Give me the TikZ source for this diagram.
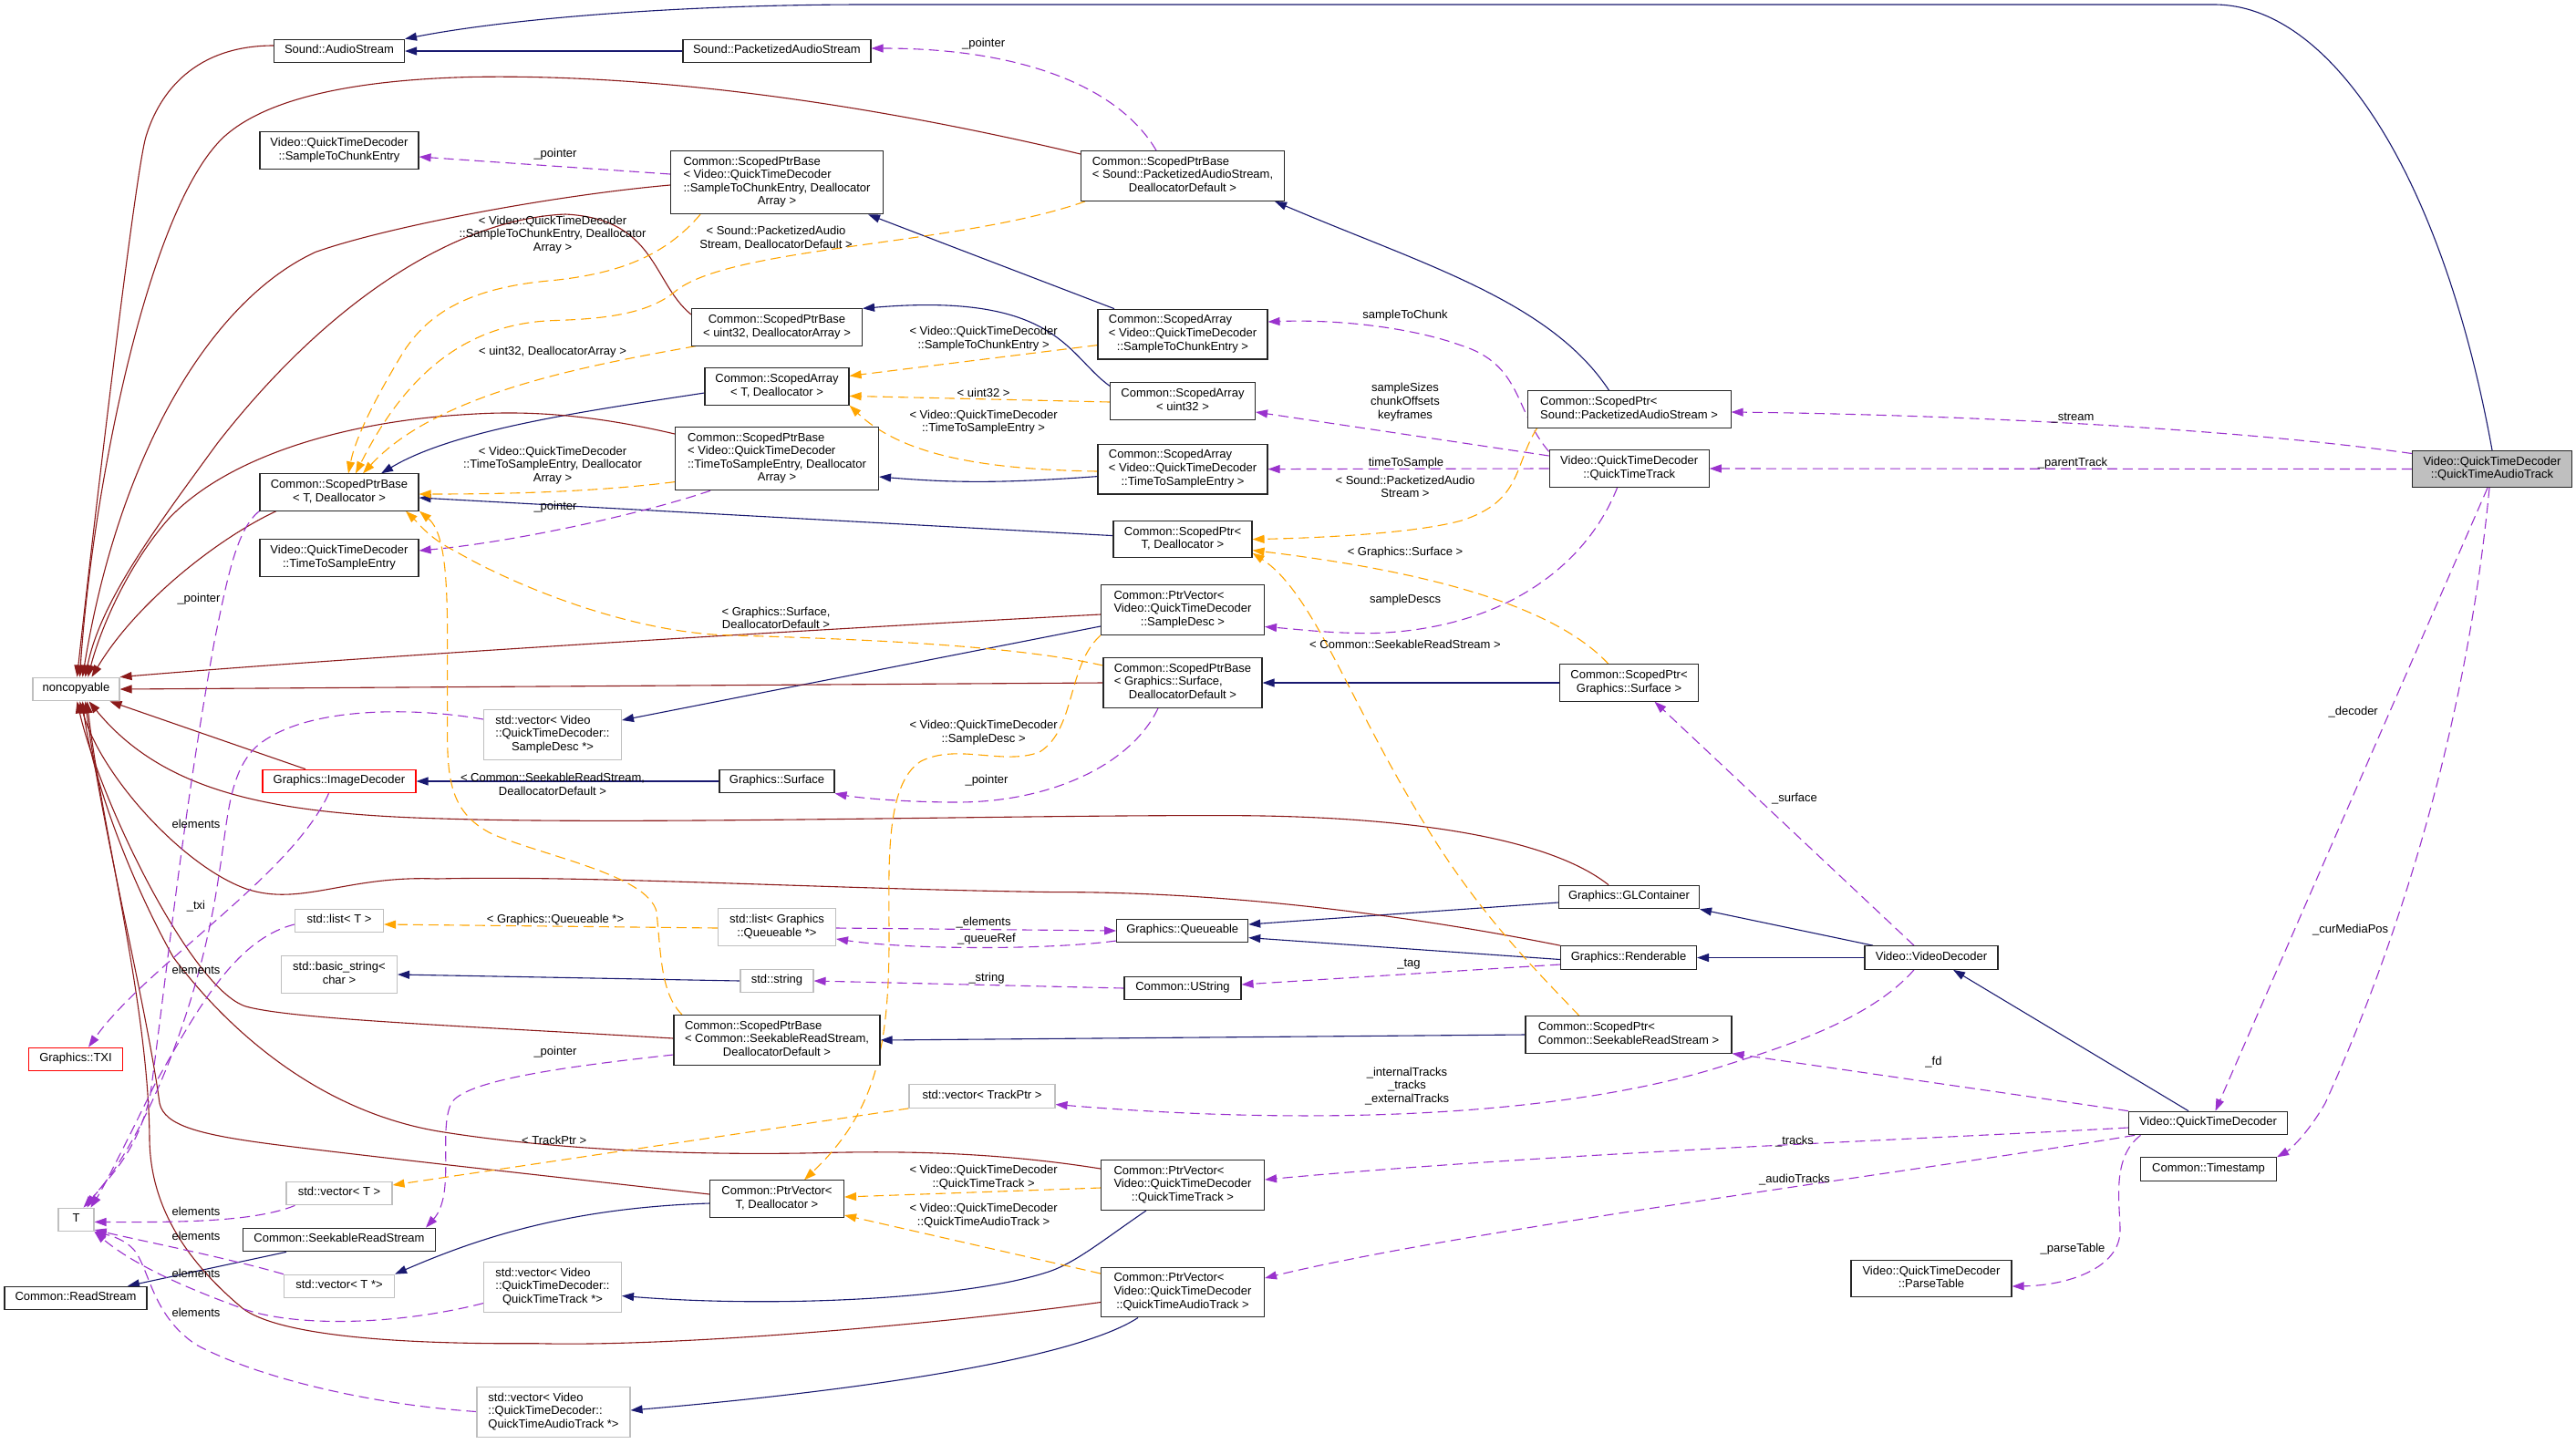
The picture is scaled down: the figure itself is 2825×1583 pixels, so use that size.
\documentclass[tikz,border=0pt]{standalone}
\usepackage{fontspec}
\setmainfont{Liberation Sans}
\usetikzlibrary{arrows.meta}
\pgfdeclarelayer{background}
\pgfsetlayers{background,main}
\definecolor{blueC}{HTML}{191970}
\definecolor{redC}{HTML}{8B1A1A}
\definecolor{purpC}{HTML}{9A32CD}
\definecolor{orC}{HTML}{FFA500}
\definecolor{grayB}{HTML}{BFBFBF}
\definecolor{mainF}{HTML}{BFBFBF}
\newcommand{\tb}[1]{\begin{tabular}{@{}c@{}}#1\end{tabular}}
\newcommand{\lft}[1]{\multicolumn{1}{@{}l@{}}{#1}}
\begin{document}
\begin{tikzpicture}[x=1pt,y=-1pt,
  every node/.style={font=\fontsize{13}{14.6}\selectfont},
  box/.style={draw=black!85, line width=1.1pt, fill=white, inner xsep=6pt, inner ysep=5.5pt, minimum height=25.6pt},
  gbox/.style={box, draw=grayB},
  rbox/.style={box, draw=red},
  mbox/.style={box, fill=mainF},
  lab/.style={inner sep=0pt},
  tip/.style={-{Triangle[length=13pt,width=9pt]}},
  inh/.style={draw=blueC, line width=1.1pt, tip},
  priv/.style={draw=redC, line width=1.1pt, tip},
  use/.style={draw=purpC, line width=1.1pt, dash pattern=on 11pt off 6pt, tip},
  tmpl/.style={draw=orC, line width=1.1pt, dash pattern=on 11pt off 6pt, tip}]
\useasboundingbox (0,0) rectangle (2825,1583);

% ---------------- nodes ----------------
\node[box, minimum width=143pt] (audio) at (372,56) {\tb{Sound::AudioStream}};
\node[box, minimum width=206pt] (pas) at (852,56) {\tb{Sound::PacketizedAudioStream}};
\node[box, minimum width=174pt] (stce) at (372,165) {\tb{Video::QuickTimeDecoder\\::SampleToChunkEntry}};
\node[box, minimum width=233pt] (spbstc) at (852,200) {\tb{\lft{Common::ScopedPtrBase}\\\lft{< Video::QuickTimeDecoder}\\::SampleToChunkEntry, Deallocator\\Array >}};
\node[box, minimum width=223pt] (spbpas) at (1297,193) {\tb{\lft{Common::ScopedPtrBase}\\< Sound::PacketizedAudioStream,\\DeallocatorDefault >}};
\node[box, minimum width=187pt] (spbu) at (852,359) {\tb{Common::ScopedPtrBase\\< uint32, DeallocatorArray >}};
\node[box, minimum width=186pt] (sastc) at (1297,366.6) {\tb{\lft{Common::ScopedArray}\\< Video::QuickTimeDecoder\\::SampleToChunkEntry >}};
\node[box, minimum width=158pt] (saT) at (852,424) {\tb{Common::ScopedArray\\< T, Deallocator >}};
\node[box, minimum width=159pt] (sau) at (1297,440) {\tb{Common::ScopedArray\\< uint32 >}};
\node[box, minimum width=223pt] (sppas) at (1786.6,449) {\tb{\lft{Common::ScopedPtr<}\\Sound::PacketizedAudioStream >}};
\node[box, minimum width=223pt] (spbtts) at (852,503) {\tb{\lft{Common::ScopedPtrBase}\\\lft{< Video::QuickTimeDecoder}\\::TimeToSampleEntry, Deallocator\\Array >}};
\node[box, minimum width=186pt] (satts) at (1297,514.6) {\tb{\lft{Common::ScopedArray}\\< Video::QuickTimeDecoder\\::TimeToSampleEntry >}};
\node[box, minimum width=175pt] (qtt) at (1786.7,514) {\tb{Video::QuickTimeDecoder\\::QuickTimeTrack}};
\node[mbox, minimum width=175pt] (qtat) at (2733,514.5) {\tb{Video::QuickTimeDecoder\\::QuickTimeAudioTrack}};
\node[box, minimum width=174pt] (spbT) at (372,540) {\tb{Common::ScopedPtrBase\\< T, Deallocator >}};
\node[box, minimum width=152pt] (spT) at (1297,591.6) {\tb{Common::ScopedPtr<\\T, Deallocator >}};
\node[box, minimum width=174pt] (ttse) at (372,612) {\tb{Video::QuickTimeDecoder\\::TimeToSampleEntry}};
\node[box, minimum width=179pt] (pvsd) at (1297,669) {\tb{\lft{Common::PtrVector<}\\Video::QuickTimeDecoder\\::SampleDesc >}};
\node[box, minimum width=174pt] (spbgs) at (1297,749) {\tb{Common::ScopedPtrBase\\\lft{< Graphics::Surface,}\\DeallocatorDefault >}};
\node[box, minimum width=152pt] (spgs) at (1786.5,749) {\tb{Common::ScopedPtr<\\Graphics::Surface >}};
\node[gbox, minimum width=95pt] (noncopy) at (83.5,756) {\tb{noncopyable}};
\node[gbox, minimum width=151pt] (vecsd) at (606,806) {\tb{\lft{std::vector< Video}\\::QuickTimeDecoder::\\SampleDesc *>}};
\node[rbox, minimum width=168pt] (imgdec) at (372,857) {\tb{Graphics::ImageDecoder}};
\node[box, minimum width=126pt] (gsurf) at (852,857) {\tb{Graphics::Surface}};
\node[box, minimum width=154pt] (glc) at (1786.5,984) {\tb{Graphics::GLContainer}};
\node[gbox, minimum width=97pt] (listT) at (372,1010) {\tb{std::list< T >}};
\node[gbox, minimum width=129pt] (listq) at (852,1017) {\tb{std::list< Graphics\\::Queueable *>}};
\node[box, minimum width=144pt] (queue) at (1296.7,1021) {\tb{Graphics::Queueable}};
\node[box, minimum width=149pt] (rend) at (1786,1050.5) {\tb{Graphics::Renderable}};
\node[box, minimum width=146pt] (vdec) at (2118,1050.5) {\tb{Video::VideoDecoder}};
\node[gbox, minimum width=127pt] (bstr) at (372,1069) {\tb{std::basic\_string<\\char >}};
\node[gbox, minimum width=80pt] (str) at (852,1076) {\tb{std::string}};
\node[box, minimum width=128pt] (ustr) at (1297,1084) {\tb{Common::UString}};
\node[box, minimum width=226pt] (spsrs) at (1786,1135) {\tb{\lft{Common::ScopedPtr<}\\Common::SeekableReadStream >}};
\node[box, minimum width=226pt] (spbsrs) at (852,1141) {\tb{\lft{Common::ScopedPtrBase}\\< Common::SeekableReadStream,\\DeallocatorDefault >}};
\node[rbox, minimum width=103pt] (txi) at (83,1162) {\tb{Graphics::TXI}};
\node[gbox, minimum width=160pt] (vectp) at (1077,1202.5) {\tb{std::vector< TrackPtr >}};
\node[box, minimum width=174pt] (qtd) at (2421.5,1232) {\tb{Video::QuickTimeDecoder}};
\node[box, minimum width=149pt] (ts) at (2422,1282.6) {\tb{Common::Timestamp}};
\node[box, minimum width=179pt] (pvqtt) at (1297,1300) {\tb{\lft{Common::PtrVector<}\\Video::QuickTimeDecoder\\::QuickTimeTrack >}};
\node[gbox, minimum width=116pt] (vecT) at (372,1309) {\tb{std::vector< T >}};
\node[box, minimum width=147pt] (pvT) at (852,1315) {\tb{Common::PtrVector<\\T, Deallocator >}};
\node[gbox, minimum width=39pt] (Tn) at (83.5,1338) {\tb{T}};
\node[box, minimum width=211pt] (srs) at (372,1360) {\tb{Common::SeekableReadStream}};
\node[box, minimum width=176pt] (ptbl) at (2118,1402.5) {\tb{Video::QuickTimeDecoder\\::ParseTable}};
\node[gbox, minimum width=121pt] (vecTp) at (372,1411) {\tb{std::vector< T *>}};
\node[gbox, minimum width=151pt] (vecqtt) at (606,1412) {\tb{\lft{std::vector< Video}\\::QuickTimeDecoder::\\QuickTimeTrack *>}};
\node[box, minimum width=179pt] (pvqtat) at (1297,1417.5) {\tb{\lft{Common::PtrVector<}\\Video::QuickTimeDecoder\\::QuickTimeAudioTrack >}};
\node[box, minimum width=156pt] (rs) at (83,1424) {\tb{Common::ReadStream}};
\node[gbox, minimum width=168pt] (vecqtat) at (607,1549) {\tb{\lft{std::vector< Video}\\\lft{::QuickTimeDecoder::}\\QuickTimeAudioTrack *>}};

% ---------------- labels ----------------
\node[lab] (l1) at (1078.6,48.6) {\tb{\_pointer}};
\node[lab] (l2) at (609,170) {\tb{\_pointer}};
\node[lab] (l3) at (1541,347) {\tb{sampleToChunk}};
\node[lab] (l4) at (1541,441.5) {\tb{sampleSizes\\chunkOffsets\\keyframes}};
\node[lab] (l5) at (1542,508.4) {\tb{timeToSample}};
\node[lab] (l6) at (2273,459) {\tb{\_stream}};
\node[lab] (l7) at (2273,509) {\tb{\_parentTrack}};
\node[lab] (l8) at (1541,658.4) {\tb{sampleDescs}};
\node[lab] (l9) at (609,557) {\tb{\_pointer}};
\node[lab] (l10) at (218,657.7) {\tb{\_pointer}};
\node[lab] (l11) at (215,905.6) {\tb{elements}};
\node[lab] (l12) at (1082,857) {\tb{\_pointer}};
\node[lab] (l13) at (1968,877) {\tb{\_surface}};
\node[lab] (l14) at (215,995) {\tb{\_txi}};
\node[lab] (l15) at (1078.6,1012.7) {\tb{\_elements}};
\node[lab] (l16) at (1082,1030.6) {\tb{\_queueRef}};
\node[lab] (l17) at (215,1066) {\tb{elements}};
\node[lab] (l18) at (1082,1073.6) {\tb{\_string}};
\node[lab] (l19) at (1545,1058) {\tb{\_tag}};
\node[lab] (l20) at (609,1154.7) {\tb{\_pointer}};
\node[lab] (l21) at (2120.5,1166) {\tb{\_fd}};
\node[lab] (l22) at (1543,1192) {\tb{\_internalTracks\\\_tracks\\\_externalTracks}};
\node[lab] (l23) at (1968,1252.5) {\tb{\_tracks}};
\node[lab] (l24) at (1968,1294.8) {\tb{\_audioTracks}};
\node[lab] (l25) at (2273,1370.6) {\tb{\_parseTable}};
\node[lab] (l26) at (2580.7,781.6) {\tb{\_decoder}};
\node[lab] (l27) at (2577.6,1020.6) {\tb{\_curMediaPos}};
\node[lab] (l28) at (215,1331) {\tb{elements}};
\node[lab] (l29) at (215,1358) {\tb{elements}};
\node[lab] (l30) at (215,1399) {\tb{elements}};
\node[lab] (l31) at (215,1442) {\tb{elements}};
\node[lab] (m1) at (606,258) {\tb{< Video::QuickTimeDecoder\\::SampleToChunkEntry, Deallocator\\Array >}};
\node[lab] (m2) at (851,262) {\tb{< Sound::PacketizedAudio\\Stream, DeallocatorDefault >}};
\node[lab] (m3) at (606,386.7) {\tb{< uint32, DeallocatorArray >}};
\node[lab] (m4) at (606,510.8) {\tb{< Video::QuickTimeDecoder\\::TimeToSampleEntry, Deallocator\\Array >}};
\node[lab] (m5) at (851,679.6) {\tb{< Graphics::Surface,\\DeallocatorDefault >}};
\node[lab] (m6) at (606,862) {\tb{< Common::SeekableReadStream,\\DeallocatorDefault >}};
\node[lab] (m7) at (1078.6,372) {\tb{< Video::QuickTimeDecoder\\::SampleToChunkEntry >}};
\node[lab] (m8) at (1078.6,433) {\tb{< uint32 >}};
\node[lab] (m9) at (1078.6,463.5) {\tb{< Video::QuickTimeDecoder\\::TimeToSampleEntry >}};
\node[lab] (m10) at (1541,535.6) {\tb{< Sound::PacketizedAudio\\Stream >}};
\node[lab] (m11) at (1541,606.6) {\tb{< Graphics::Surface >}};
\node[lab] (m12) at (1541,709) {\tb{< Common::SeekableReadStream >}};
\node[lab] (m13) at (1078.6,803.8) {\tb{< Video::QuickTimeDecoder\\::SampleDesc >}};
\node[lab] (m14) at (609,1010) {\tb{< Graphics::Queueable *>}};
\node[lab] (m15) at (607.7,1253) {\tb{< TrackPtr >}};
\node[lab] (m16) at (1078.6,1292) {\tb{< Video::QuickTimeDecoder\\::QuickTimeTrack >}};
\node[lab] (m17) at (1078.6,1334) {\tb{< Video::QuickTimeDecoder\\::QuickTimeAudioTrack >}};

\begin{pgfonlayer}{background}
\fill[white] (0,0) rectangle (2825,1583);

% ---------------- public inheritance (blue) ----------------
\draw[inh] (qtat.north) .. controls (2680,200) and (2560,5) .. (2428,5) -- (950,5) .. controls (750,5) and (560,20) .. (audio.north east);
\draw[inh] (pas.west) -- (audio.east);
\draw[inh] ([xshift=-75pt]sastc.north) -- ([xshift=-17pt]spbstc.south east);
\draw[inh] ([xshift=-22pt]sppas.north) .. controls (1700,330) and (1560,290) .. ([xshift=-11pt]spbpas.south east);
\draw[inh] ([yshift=-4pt]sau.north west) .. controls (1170,390) and (1160,320) .. (spbu.north east);
\draw[inh] ([yshift=-7pt]saT.west) .. controls (650,450) and (500,470) .. ([xshift=46pt]spbT.north);
\draw[inh] ([yshift=-8pt]satts.west) .. controls (1100,530) and (1050,530) .. ([yshift=-20pt]spbtts.east);
\draw[inh] ([yshift=4pt]spT.west) -- ([yshift=-6pt]spbT.east);
\draw[inh] ([yshift=-18pt]pvsd.west) -- ([yshift=16pt]vecsd.east);
\draw[inh] (spgs.west) -- (spbgs.east);
\draw[inh] (gsurf.west) -- (imgdec.east);
\draw[inh] (str.west) -- (bstr.east);
\draw[inh] ([yshift=-6pt]glc.west) -- ([yshift=7pt]queue.east);
\draw[inh] ([yshift=-2pt]rend.west) -- ([yshift=-7.6pt]queue.east);
\draw[inh] ([xshift=-64pt]vdec.north) -- (glc.south east);
\draw[inh] (vdec.west) -- (rend.east);
\draw[inh] ([xshift=-21.5pt]qtd.north) -- ([xshift=24pt]vdec.south);
\draw[inh] (spsrs.west) -- (spbsrs.east);
\draw[inh] ([xshift=-58pt]srs.south) -- ([xshift=57pt]rs.north);
\draw[inh] ([yshift=-5pt]pvT.west) .. controls (620,1325) and (520,1360) .. (vecTp.north east);
\draw[inh] ([xshift=-40pt]pvqtt.south) .. controls (1210,1360) and (1180,1385) .. (1150,1395) .. controls (1060,1425) and (850,1435) .. ([yshift=-9.5pt]vecqtt.east);
\draw[inh] ([xshift=-49pt]pvqtat.south) .. controls (1180,1490) and (950,1525) .. ([yshift=2pt]vecqtat.east);

% ---------------- private inheritance (red) ----------------
\draw[priv] ([yshift=6pt]audio.west) .. controls (215,50) and (175,100) .. (160,150) .. controls (148,190) and (100,600) .. ([xshift=1pt]noncopy.north);
\draw[priv] ([yshift=24pt]spbpas.west) .. controls (1000,125) and (750,80) .. (515,84.5) .. controls (380,88) and (290,110) .. (245.7,150) .. controls (160,230) and (100,550) .. ([xshift=4pt]noncopy.north);
\draw[priv] ([yshift=-3pt]spbstc.west) .. controls (600,215) and (420,250) .. (346,276.5) .. controls (230,330) and (130,500) .. ([xshift=7pt]noncopy.north);
\draw[priv] ([yshift=14pt]spbu.west) .. controls (715,310) and (720,240) .. (620,235) .. controls (500,240) and (360,330) .. (238.6,486) .. controls (170,580) and (110,660) .. ([xshift=10pt]noncopy.north);
\draw[priv] ([yshift=27pt]spbtts.west) .. controls (650,455) and (580,450) .. (513.6,454.5) .. controls (380,462) and (250,500) .. (185,569) .. controls (140,620) and (110,690) .. ([xshift=13pt]noncopy.north);
\draw[priv] ([xshift=-69pt]spbT.south) .. controls (240,590) and (150,660) .. ([xshift=17pt]noncopy.north);
\draw[priv] ([yshift=-5pt]pvsd.west) .. controls (900,690) and (400,720) .. (noncopy.north east);
\draw[priv] (spbgs.west) -- (noncopy.east);
\draw[priv] ([xshift=-37pt]imgdec.north) -- ([xshift=37pt]noncopy.south);
\draw[priv] ([xshift=-22.5pt]glc.north) .. controls (1700,920) and (1550,895) .. (1346,894.6) .. controls (1100,894) and (700,905) .. (484.7,898) .. controls (300,893) and (180,870) .. ([xshift=14pt]noncopy.south);
\draw[priv] (rend.north west) .. controls (1550,1005) and (1350,978) .. (1155,978.6) .. controls (900,975) and (650,960) .. (478.6,964) .. controls (380,960) and (330,995) .. (270,975) .. controls (200,950) and (110,850) .. ([xshift=4pt]noncopy.south);
\draw[priv] ([yshift=2pt]spbsrs.west) .. controls (500,1125) and (320,1118) .. (269.6,1104) .. controls (210,1085) and (110,880) .. ([xshift=1pt]noncopy.south);
\draw[priv] ([yshift=18pt]pvqtt.west) .. controls (1100,1265) and (1000,1262) .. (900,1264.6) .. controls (750,1268) and (600,1260) .. (484.7,1241.6) .. controls (350,1220) and (250,1130) .. (190,1050) .. controls (140,960) and (100,850) .. ([xshift=7pt]noncopy.south);
\draw[priv] ([yshift=5pt]pvT.west) .. controls (600,1290) and (400,1268) .. (303,1255.7) .. controls (220,1245) and (180,1235) .. (175,1210) .. controls (160,1100) and (110,900) .. ([xshift=10pt]noncopy.south);
\draw[priv] ([yshift=-11pt]pvqtat.west) .. controls (1050,1450) and (750,1478) .. (587.7,1473.7) .. controls (400,1475) and (300,1460) .. (266.6,1435.6) .. controls (200,1380) and (165,1320) .. (164,1250) .. controls (163,1100) and (110,900) .. ([xshift=12pt]noncopy.south);

% ---------------- usage (purple dashed) ----------------
\draw[use] ([xshift=-29pt]spbpas.north) .. controls (1230,100) and (1130,53) .. ([yshift=3pt]pas.east);
\draw[use] ([yshift=9pt]spbstc.west) -- ([yshift=-7pt]stce.east);
\draw[use] ([yshift=-2pt]qtt.north west) .. controls (1660,450) and (1670,400) .. (1601.5,378.6) .. controls (1550,360) and (1470,350) .. ([yshift=13.6pt]sastc.east);
\draw[use] ([yshift=14pt]qtt.west) -- ([yshift=-12pt]sau.east);
\draw[use] (qtt.west) -- (satts.east);
\draw[use] ([yshift=17pt]qtat.west) .. controls (2450,470) and (2150,455) .. ([yshift=-3pt]sppas.east);
\draw[use] (qtat.west) -- (qtt.east);
\draw[use] ([xshift=-13pt]qtt.south) .. controls (1740,620) and (1650,690) .. (1506,694.6) .. controls (1460,695) and (1420,690) .. ([yshift=-18.5pt]pvsd.east);
\draw[use] ([xshift=-73pt]spbtts.south) .. controls (700,565) and (560,595) .. ([yshift=8pt]ttse.east);
\draw[use] (spbT.south west) .. controls (260,580) and (250,630) .. (235,704) .. controls (200,900) and (185,1050) .. (165,1200) .. controls (150,1270) and (110,1300) .. ([xshift=12pt]Tn.north);
\draw[use] ([yshift=17pt]vecsd.west) .. controls (450,775) and (330,775) .. (280,820) .. controls (250,850) and (250,900) .. (240,960) .. controls (220,1100) and (160,1250) .. ([xshift=8pt]Tn.north);
\draw[use] ([xshift=-27pt]spbgs.south) .. controls (1240,840) and (1150,880) .. (1050,880) .. controls (990,880) and (940,875) .. (gsurf.south east);
\draw[use] ([xshift=-19pt]vdec.north) -- ([xshift=28pt]spgs.south);
\draw[use] ([xshift=-11.5pt]imgdec.south) .. controls (320,960) and (160,1060) .. ([xshift=14pt]txi.north);
\draw[use] ([yshift=-1pt]listq.east) -- (queue.west);
\draw[use] ([yshift=-11pt]queue.west) .. controls (1150,1042) and (1000,1042) .. ([yshift=-13pt]listq.east);
\draw[use] ([yshift=-4pt]listT.west) .. controls (260,1030) and (220,1100) .. (170,1189) .. controls (140,1250) and (115,1300) .. ([xshift=16pt]Tn.north);
\draw[use] (ustr.west) -- (str.east);
\draw[use] ([yshift=-7.5pt]rend.west) -- ([yshift=4pt]ustr.east);
\draw[use] ([yshift=-16pt]spbsrs.west) .. controls (620,1170) and (510,1185) .. (495,1210) .. controls (480,1240) and (500,1310) .. ([xshift=95pt]srs.north);
\draw[use] (qtd.north west) -- (spsrs.south east);
\draw[use] ([xshift=-19pt]vdec.south) .. controls (2050,1120) and (1950,1150) .. (1895,1167.6) .. controls (1750,1215) and (1500,1240) .. ([yshift=-9pt]vectp.east);
\draw[use] ([yshift=-5pt]qtd.west) .. controls (2100,1250) and (1700,1265) .. ([yshift=6pt]pvqtt.east);
\draw[use] ([xshift=-80.5pt]qtd.south) .. controls (2100,1285) and (1600,1350) .. ([yshift=15.5pt]pvqtat.east);
\draw[use] ([xshift=-74pt]qtd.south) .. controls (2315,1270) and (2325,1320) .. (2325,1350) .. controls (2325,1390) and (2270,1410) .. ([yshift=-8.5pt]ptbl.east);
\draw[use] ([xshift=-5pt]qtat.south) -- ([xshift=8pt]qtd.north);
\draw[use] ([xshift=-3pt]qtat.south) .. controls (2700,850) and (2600,1100) .. (2550,1210) .. controls (2530,1245) and (2510,1262) .. (ts.north east);
\draw[use] ([xshift=-48.5pt]vecT.south) .. controls (280,1340) and (200,1341) .. ([yshift=-2.4pt]Tn.east);
\draw[use] (vecTp.north west) .. controls (250,1380) and (150,1360) .. ([yshift=-11pt]Tn.east);
\draw[use] ([yshift=-17.6pt]vecqtt.west) .. controls (430,1455) and (320,1455) .. (266.6,1435.6) .. controls (210,1415) and (150,1390) .. (Tn.south east);
\draw[use] ([yshift=0.5pt]vecqtat.west) .. controls (400,1540) and (280,1510) .. (215,1475) .. controls (170,1445) and (165,1400) .. (150,1375) .. controls (140,1360) and (120,1355) .. (Tn.south east);

% ---------------- template instances (orange dashed) ----------------
\draw[tmpl] ([xshift=-84pt]spbstc.south) .. controls (730,280) and (680,300) .. (606,307.6) .. controls (520,315) and (470,340) .. (440,390) .. controls (410,440) and (390,480) .. ([xshift=10pt]spbT.north);
\draw[tmpl] ([xshift=-107pt]spbpas.south) .. controls (1050,270) and (800,270) .. (740,320) .. controls (710,345) and (660,350) .. (606,351.6) .. controls (520,355) and (450,400) .. ([xshift=18pt]spbT.north);
\draw[tmpl] ([xshift=-89pt]spbu.south) .. controls (650,400) and (480,430) .. ([xshift=26pt]spbT.north);
\draw[tmpl] ([yshift=-25.6pt]spbtts.west) .. controls (650,540) and (550,542) .. ([yshift=-2pt]spbT.east);
\draw[tmpl] ([yshift=19pt]spbgs.west) .. controls (1100,705) and (900,700) .. (787.6,696.4) .. controls (680,690) and (560,640) .. (500,605) .. controls (470,590) and (460,575) .. ([xshift=73pt]spbT.south);
\draw[tmpl] ([xshift=-104pt]spbsrs.north) .. controls (725,1090) and (725,1050) .. (720,1000) .. controls (710,960) and (600,940) .. (540,915) .. controls (490,890) and (490,850) .. (490.7,780) .. controls (490,680) and (495,590) .. ([xshift=88pt]spbT.south);
\draw[tmpl] ([yshift=-12pt]sastc.west) -- ([yshift=11.6pt]saT.east);
\draw[tmpl] ([yshift=-1pt]sau.west) -- ([yshift=-10.4pt]saT.east);
\draw[tmpl] ([yshift=-2.4pt]satts.west) .. controls (1080,515) and (990,500) .. (saT.south east);
\draw[tmpl] ([xshift=-101pt]sppas.south) .. controls (1660,510) and (1670,550) .. (1601.5,571.4) .. controls (1550,585) and (1450,590) .. (spT.east);
\draw[tmpl] ([xshift=-22.5pt]spgs.north) .. controls (1700,660) and (1550,625) .. ([yshift=-12pt]spT.east);
\draw[tmpl] ([xshift=-54pt]spsrs.north) .. controls (1680,1060) and (1620,1000) .. (1560,900) .. controls (1480,770) and (1440,650) .. ([yshift=-15pt]spT.east);
\draw[tmpl] (pvsd.south west) .. controls (1170,730) and (1180,800) .. (1140,825) .. controls (1100,840) and (1050,815) .. (1010,835) .. controls (970,860) and (975,950) .. (975,1030) .. controls (975,1150) and (960,1220) .. ([xshift=30pt]pvT.north);
\draw[tmpl] ([yshift=-1pt]listq.west) -- ([yshift=-4pt]listT.east);
\draw[tmpl] (vectp.south west) -- ([yshift=9pt]vecT.east);
\draw[tmpl] ([yshift=-3pt]pvqtt.west) -- ([yshift=2pt]pvT.east);
\draw[tmpl] ([yshift=20.5pt]pvqtat.west) -- ([yshift=-18pt]pvT.east);
\end{pgfonlayer}
\end{tikzpicture}
\end{document}
